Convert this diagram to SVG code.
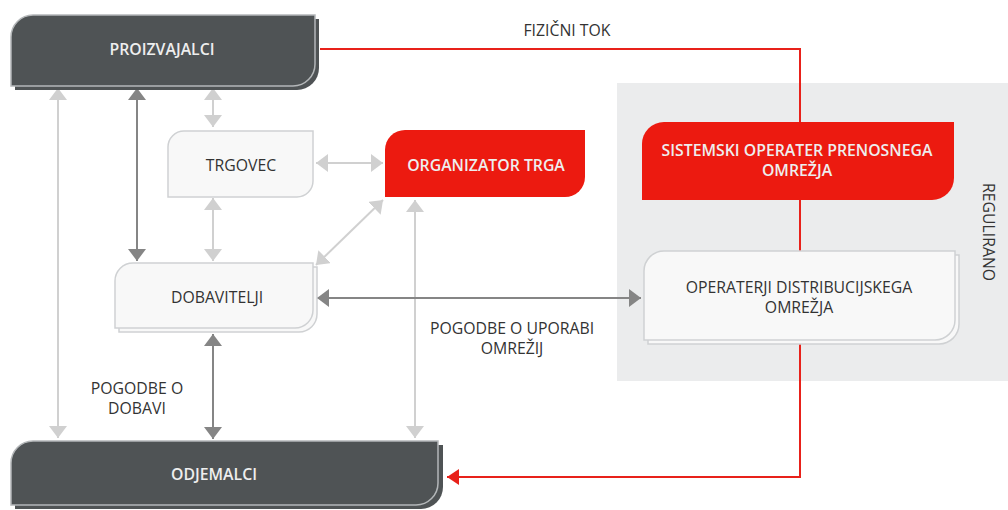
<svg xmlns="http://www.w3.org/2000/svg" width="1008" height="510" viewBox="0 0 1008 510">
<style>
text{font-family:"Open Sans","Noto Sans","Liberation Sans",sans-serif;font-size:15.8px;text-anchor:middle}
.dk{fill:#4f5355}
.dks{fill:#4f5355;stroke:#b4b7b9;stroke-width:1.5}
.lt{fill:#f8f8f8;stroke:#cfd1d3;stroke-width:1.5}
.rd{fill:#ec1a10}
.wt{fill:#eeeeee;font-weight:600}
.bt{fill:#333}
.lg{stroke:#d0d0d0;stroke-width:2;fill:none}
.dg{stroke:#858585;stroke-width:2;fill:none}
.rl{stroke:#e8211a;stroke-width:2;fill:none}
</style>
<defs>
<marker id="al" viewBox="0 0 12 18" refX="12" refY="9" markerWidth="12" markerHeight="18" markerUnits="userSpaceOnUse" orient="auto-start-reverse"><path d="M0,0L12,9L0,18z" fill="#d0d0d0"/></marker>
<marker id="ad" viewBox="0 0 12 18" refX="12" refY="9" markerWidth="12" markerHeight="18" markerUnits="userSpaceOnUse" orient="auto-start-reverse"><path d="M0,0L12,9L0,18z" fill="#858585"/></marker>
<marker id="ar" viewBox="0 0 12 16" refX="12" refY="8" markerWidth="12" markerHeight="16" markerUnits="userSpaceOnUse" orient="auto-start-reverse"><path d="M0,0L12,8L0,16z" fill="#e8211a"/></marker>
</defs>
<rect x="617" y="83" width="391" height="298" fill="#ebeced"/>
<text class="bt" transform="translate(983,232) rotate(90)">REGULIRANO</text>
<g id="connectors">
<path class="rl" d="M320,49H800V122M800,200V251M800,344V477H447" marker-end="url(#ar)"/>
<line class="lg" x1="58" y1="88" x2="58" y2="438" marker-start="url(#al)" marker-end="url(#al)"/>
<line class="dg" x1="137" y1="88" x2="137" y2="261" marker-start="url(#ad)" marker-end="url(#ad)"/>
<line class="lg" x1="213" y1="88" x2="213" y2="127" marker-start="url(#al)" marker-end="url(#al)"/>
<line class="lg" x1="213" y1="198" x2="213" y2="261" marker-start="url(#al)" marker-end="url(#al)"/>
<line class="lg" x1="316" y1="163" x2="383" y2="163" marker-start="url(#al)" marker-end="url(#al)"/>
<line class="lg" x1="316" y1="265" x2="383" y2="200" marker-start="url(#al)" marker-end="url(#al)"/>
<line class="lg" x1="415" y1="200" x2="415" y2="438" marker-start="url(#al)" marker-end="url(#al)"/>
<line class="dg" x1="317" y1="298" x2="641" y2="298" marker-start="url(#ad)" marker-end="url(#ad)"/>
<line class="dg" x1="213" y1="334" x2="213" y2="439" marker-start="url(#ad)" marker-end="url(#ad)"/>
<text class="bt" x="567" y="36">FIZIČNI TOK</text>
<text class="bt" x="512" y="334">POGODBE O UPORABI</text>
<text class="bt" x="512" y="354">OMREŽIJ</text>
<text class="bt" x="137" y="394">POGODBE O</text>
<text class="bt" x="137" y="414">DOBAVI</text>
</g>
<g id="proizvajalci">
<path class="dk" d="M37,19H319V68A22,22 0 0 1 297,90H15V41A22,22 0 0 1 37,19Z"/>
<path class="dks" d="M33,15H315V64A22,22 0 0 1 293,86H11V37A22,22 0 0 1 33,15Z"/>
<text class="wt" x="162" y="55">PROIZVAJALCI</text>
</g>
<g id="odjemalci">
<path class="dk" d="M37,445H443V487A22,22 0 0 1 421,509H15V467A22,22 0 0 1 37,445Z"/>
<path class="dks" d="M33,441H438V483A22,22 0 0 1 416,505H11V463A22,22 0 0 1 33,441Z"/>
<text class="wt" x="214" y="480">ODJEMALCI</text>
</g>
<g id="trgovec">
<path class="lt" d="M184,131H313V181A16,16 0 0 1 297,197H168V147A16,16 0 0 1 184,131Z"/>
<text class="bt" x="241" y="171">TRGOVEC</text>
</g>
<g id="organizator">
<path class="rd" d="M405,130H585V177A20,20 0 0 1 565,197H385V150A20,20 0 0 1 405,130Z"/>
<text class="wt" x="486" y="171">ORGANIZATOR TRGA</text>
</g>
<g id="dobavitelji">
<path class="lt" d="M137,267H317V314A18,18 0 0 1 299,332H119V285A18,18 0 0 1 137,267Z"/>
<path class="lt" d="M133,263H313V310A18,18 0 0 1 295,328H115V281A18,18 0 0 1 133,263Z"/>
<text class="bt" x="217" y="303">DOBAVITELJI</text>
</g>
<g id="sistemski">
<path class="rd" d="M664,122H954V178A22,22 0 0 1 932,200H642V144A22,22 0 0 1 664,122Z"/>
<text class="wt" x="797" y="156">SISTEMSKI OPERATER PRENOSNEGA</text>
<text class="wt" x="797" y="176">OMREŽJA</text>
</g>
<g id="operaterji">
<path class="lt" d="M668,255H959V324A20,20 0 0 1 939,344H648V275A20,20 0 0 1 668,255Z"/>
<path class="lt" d="M664,251H955V320A20,20 0 0 1 935,340H644V271A20,20 0 0 1 664,251Z"/>
<text class="bt" x="799" y="293">OPERATERJI DISTRIBUCIJSKEGA</text>
<text class="bt" x="799" y="313">OMREŽJA</text>
</g>
</svg>
